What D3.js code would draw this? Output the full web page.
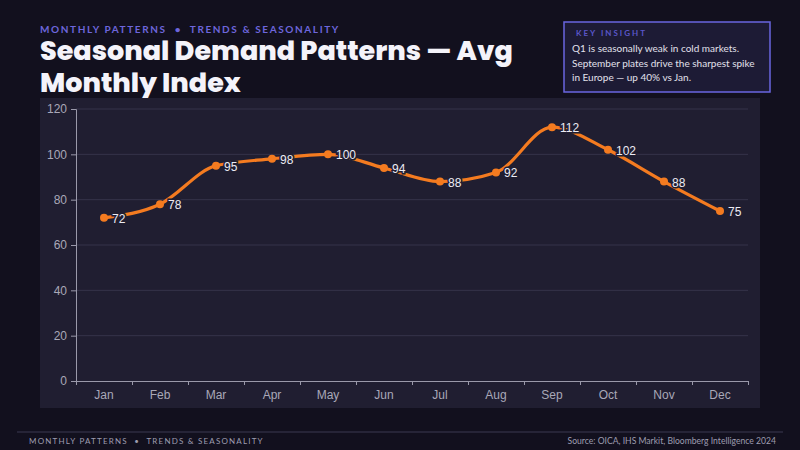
<!DOCTYPE html>
<html>
<head>
<meta charset="utf-8">
<script src="https://cdn.jsdelivr.net/npm/d3@7"></script>
<style>
  html, body { margin: 0; padding: 0; background: #12101e; }
  svg { display: block; }
</style>
</head>
<body>
<svg id="chart" width="800" height="450"></svg>
<script>
// chart data
var months = ["Jan", "Feb", "Mar", "Apr", "May", "Jun", "Jul", "Aug", "Sep", "Oct", "Nov", "Dec"];
var demandIndex = [72, 78, 95, 98, 100, 94, 88, 92, 112, 102, 88, 75];
var yTicks = [0, 20, 40, 60, 80, 100, 120];
var insightLines = [
  "Q1 is seasonally weak in cold markets.",
  "September plates drive the sharpest spike",
  "in Europe \u2014 up 40% vs Jan."
];

var svg = d3.select("#chart");
var W = 800, H = 450;
var kicker = "MONTHLY PATTERNS \u00a0\u2022\u00a0 TRENDS & SEASONALITY";

svg.append("rect").attr("width", W).attr("height", H).attr("fill", "#12101e");

// header
svg.append("text")
  .attr("x", 40).attr("y", 33)
  .attr("fill", "#6d66dc")
  .style("font-family", "Lato, 'Open Sans', sans-serif")
  .style("font-size", "10px").style("font-weight", 700)
  .style("letter-spacing", "1.6px")
  .text(kicker);

var title = svg.append("text")
  .attr("fill", "#f4f3fa")
  .style("font-family", "Poppins, Inter, sans-serif")
  .style("font-size", "27px").style("font-weight", 800);
title.append("tspan").attr("x", 40).attr("y", 60).text("Seasonal Demand Patterns \u2014 Avg");
title.append("tspan").attr("x", 40).attr("y", 92).text("Monthly Index");

// key insight box
var box = svg.append("g").attr("transform", "translate(564,22)");
box.append("rect").attr("width", 206).attr("height", 70)
  .attr("fill", "#1d1b35").attr("stroke", "#6a66e0").attr("stroke-width", 1.5);
box.append("text").attr("x", 12).attr("y", 14)
  .attr("fill", "#5a56c8")
  .style("font-family", "Lato, sans-serif")
  .style("font-size", "8px").style("font-weight", 700)
  .style("letter-spacing", "2px")
  .text("KEY INSIGHT");
box.append("g").selectAll("text").data(insightLines).enter().append("text")
  .attr("x", 8).attr("y", function(d, i) { return 30 + i * 14.5; })
  .attr("fill", "#e2e1ec")
  .style("font-family", "Lato, sans-serif")
  .style("font-size", "10px")
  .text(function(d) { return d; });

// plot panel
svg.append("rect").attr("x", 40).attr("y", 98).attr("width", 720).attr("height", 310)
  .attr("fill", "#201e31");

var pLeft = 76, pRight = 748, pTop = 109, pBottom = 381;
var x = d3.scaleBand().domain(months).range([pLeft, pRight]);
var y = d3.scaleLinear().domain([0, 120]).range([pBottom, pTop]);

var axisFont = "'Liberation Sans', Arial, sans-serif";

// grid
svg.append("g").selectAll("line").data(yTicks.filter(function(d) { return d > 0; })).enter()
  .append("line")
  .attr("x1", pLeft).attr("x2", pRight)
  .attr("y1", function(d) { return y(d); }).attr("y2", function(d) { return y(d); })
  .attr("stroke", "#35334a").attr("stroke-width", 1);

// y axis
var yAxis = svg.append("g").attr("transform", "translate(" + pLeft + ",0)")
  .call(d3.axisLeft(y).tickValues(yTicks).tickSize(5).tickPadding(4));
yAxis.selectAll("text").attr("fill", "#a9a8b8").style("font-family", axisFont).style("font-size", "12px");
yAxis.selectAll("line, path").attr("stroke", "#9a99aa");

// x axis: ticks on band edges, labels on band centres
var edges = months.map(function(m) { return x(m); }).concat([pRight]);
var xEdge = d3.scaleLinear().domain([pLeft, pRight]).range([pLeft, pRight]);
var xAxis = svg.append("g").attr("transform", "translate(0," + pBottom + ")")
  .call(d3.axisBottom(xEdge).tickValues(edges).tickSize(4).tickFormat(""));
xAxis.selectAll("line, path").attr("stroke", "#9a99aa");
svg.append("g").attr("transform", "translate(0," + pBottom + ")")
  .call(d3.axisBottom(x).tickSize(0).tickPadding(9))
  .call(function(g) { g.select(".domain").remove(); })
  .selectAll("text").attr("fill", "#a9a8b8").style("font-family", axisFont).style("font-size", "12px");

// line
var cx = function(d, i) { return x(months[i]) + x.bandwidth() / 2; };
var line = d3.line()
  .x(function(d, i) { return cx(d, i); })
  .y(function(d) { return y(d); })
  .curve(d3.curveMonotoneX);

svg.append("path").datum(demandIndex)
  .attr("d", line)
  .attr("fill", "none")
  .attr("stroke", "#f47b20")
  .attr("stroke-width", 3.2)
  .attr("stroke-linecap", "round");

svg.append("g").selectAll("circle").data(demandIndex).enter().append("circle")
  .attr("cx", cx).attr("cy", function(d) { return y(d); })
  .attr("r", 4).attr("fill", "#f47b20");

svg.append("g").selectAll("text").data(demandIndex).enter().append("text")
  .attr("x", function(d, i) { return cx(d, i) + 8; })
  .attr("y", function(d) { return y(d) + 5; })
  .attr("fill", "#ececf4")
  .attr("stroke", "#201e31").attr("stroke-width", 3)
  .style("paint-order", "stroke")
  .style("font-family", axisFont).style("font-size", "12px")
  .text(function(d) { return d; });

// footer
svg.append("line").attr("x1", 17).attr("x2", 783).attr("y1", 432).attr("y2", 432)
  .attr("stroke", "#3a3850").attr("stroke-width", 1);
svg.append("text").attr("x", 29).attr("y", 444)
  .attr("fill", "#9e9db0")
  .style("font-family", "Lato, sans-serif")
  .style("font-size", "8px").style("letter-spacing", "1.2px")
  .text(kicker);
svg.append("text").attr("x", 776).attr("y", 444)
  .attr("text-anchor", "end")
  .attr("fill", "#9e9db0")
  .style("font-family", "Lato, sans-serif")
  .style("font-size", "8.6px")
  .text("Source: OICA, IHS Markit, Bloomberg Intelligence 2024");
</script>
</body>
</html>
